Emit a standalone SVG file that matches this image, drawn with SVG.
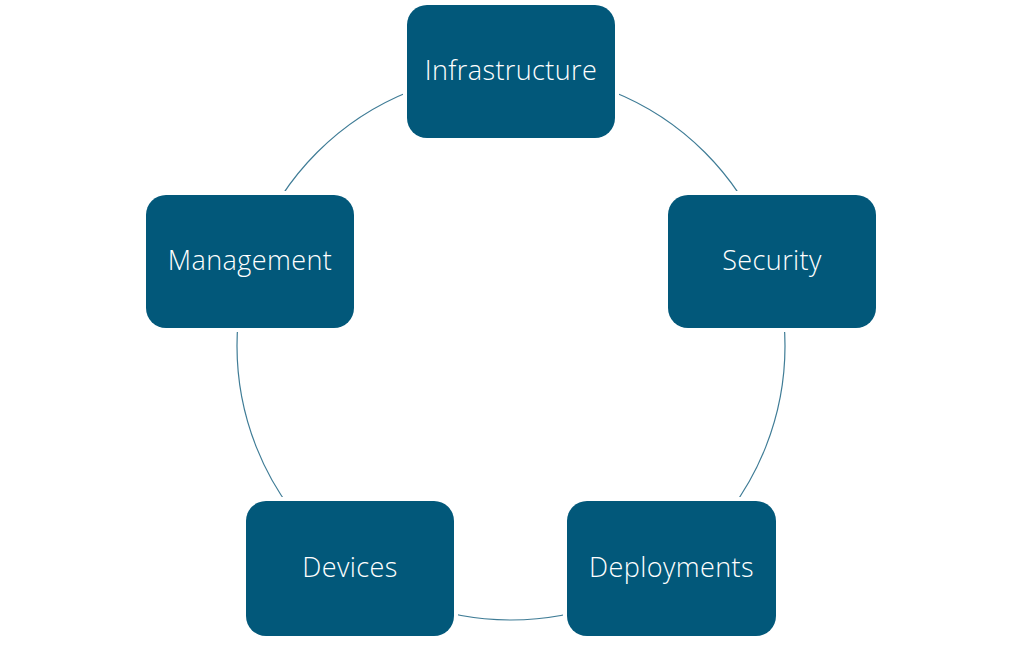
<svg xmlns="http://www.w3.org/2000/svg" width="1024" height="649" viewBox="0 0 1024 649">
<style>
.box{fill:#02587a;}
.gap{fill:#ffffff;}
.lbl{fill:#ffffff;font-family:"Open Sans","Noto Sans",sans-serif;font-weight:300;font-size:27px;letter-spacing:0.4px;text-anchor:middle;dominant-baseline:central;}
.ring{fill:none;stroke:#3f7c96;stroke-width:1.2;}
</style>
<rect width="1024" height="649" fill="#ffffff"/>
<g id="connectors">
<circle class="ring" cx="511" cy="346" r="274"/>
</g>
<g id="infrastructure">
<rect class="gap" x="403" y="1" width="216" height="141" rx="24"/>
<rect class="box" x="407" y="5" width="208" height="133" rx="20"/>
<text class="lbl" x="511" y="69">Infrastructure</text>
</g>
<g id="security">
<rect class="gap" x="664" y="191" width="216" height="141" rx="24"/>
<rect class="box" x="668" y="195" width="208" height="133" rx="20"/>
<text class="lbl" x="772" y="259">Security</text>
</g>
<g id="deployments">
<rect class="gap" x="563" y="497" width="217" height="143" rx="24"/>
<rect class="box" x="567" y="501" width="209" height="135" rx="20"/>
<text class="lbl" x="671.5" y="566">Deployments</text>
</g>
<g id="devices">
<rect class="gap" x="242" y="497" width="216" height="143" rx="24"/>
<rect class="box" x="246" y="501" width="208" height="135" rx="20"/>
<text class="lbl" x="350" y="566">Devices</text>
</g>
<g id="management">
<rect class="gap" x="142" y="191" width="216" height="141" rx="24"/>
<rect class="box" x="146" y="195" width="208" height="133" rx="20"/>
<text class="lbl" x="250" y="259">Management</text>
</g>
</svg>
